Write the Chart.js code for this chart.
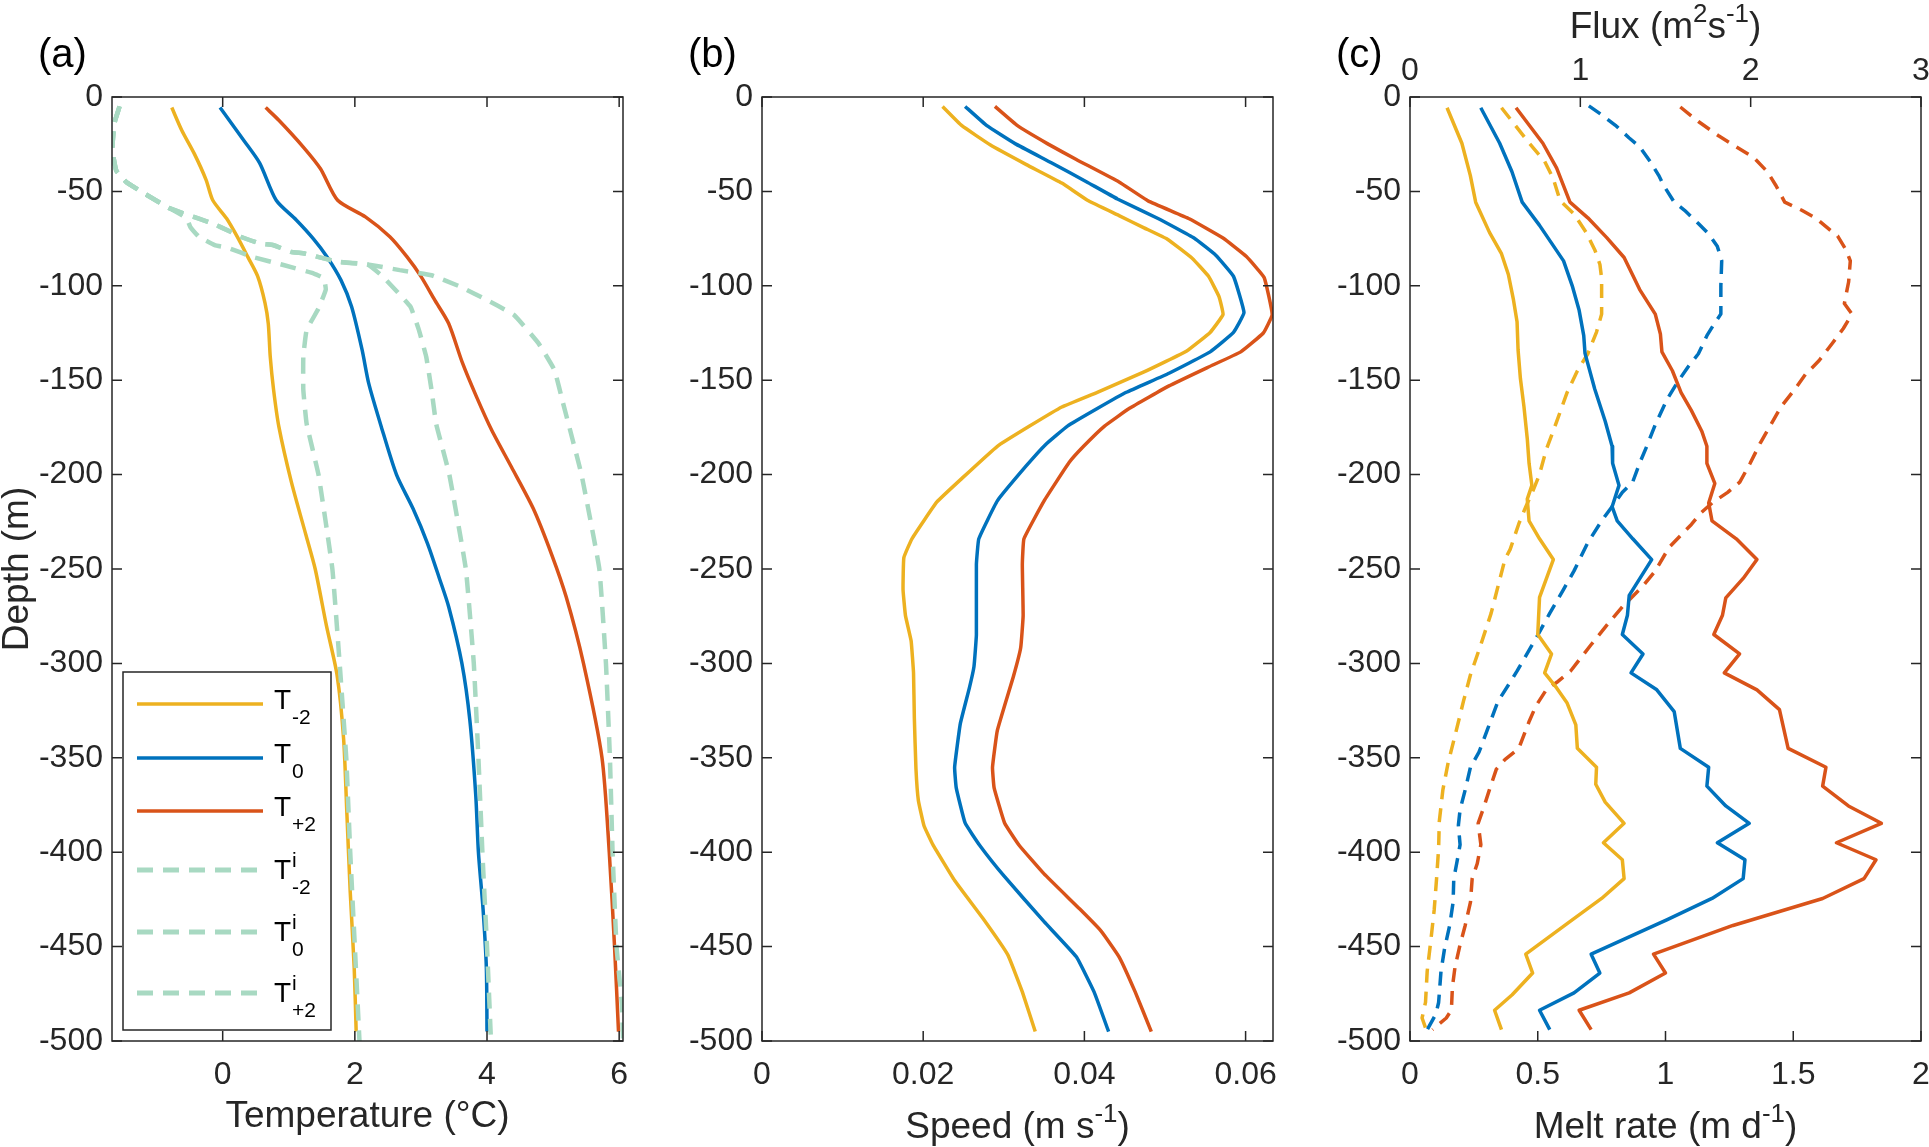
<!DOCTYPE html>
<html>
<head>
<meta charset="utf-8">
<script src="https://cdn.jsdelivr.net/npm/chart.js@4.4.1/dist/chart.umd.min.js"></script>
<style>
  html, body { margin: 0; padding: 0; background: #fff; width: 1929px; height: 1147px; overflow: hidden; }
  canvas { position: absolute; top: 0; }
</style>
</head>
<body>
<canvas id="chartA" width="660" height="1147" style="left:0px"></canvas>
<canvas id="chartB" width="660" height="1147" style="left:640px"></canvas>
<canvas id="chartC" width="639" height="1147" style="left:1290px"></canvas>
<script>
// ---- tick labels ----
const depthTicks = [-500, -450, -400, -350, -300, -250, -200, -150, -100, -50, 0];
const tempTicks = [0, 2, 4, 6];
const speedTicks = [0, 0.02, 0.04, 0.06];
const meltTicks = [0, 0.5, 1, 1.5, 2];
const fluxTicks = [0, 1, 2, 3];

// ---- (a) temperature profiles ----
const tm2Depth = [-5.6, -17.6, -30, -44, -54.7, -64.4, -74, -84.7, -95, -109, -120, -137.6, -155, -174.6, -204, -232, -250, -280, -306, -340, -380, -421, -461, -495];
const tm2Temp  = [-0.77, -0.62, -0.43, -0.25, -0.15, 0.06, 0.22, 0.38, 0.53, 0.64, 0.69, 0.72, 0.77, 0.85, 1.04, 1.26, 1.4, 1.57, 1.73, 1.83, 1.88, 1.93, 1.99, 2.02];
const t0Depth = [-5.6, -23, -35, -54.7, -65, -75, -84.7, -97, -111, -134, -151.7, -174.6, -200, -218, -236.5, -255, -270, -300, -330, -370, -400, -430, -461, -495];
const t0Temp  = [-0.04, 0.32, 0.56, 0.81, 1.11, 1.37, 1.58, 1.79, 1.95, 2.11, 2.21, 2.4, 2.63, 2.88, 3.1, 3.28, 3.42, 3.62, 3.74, 3.83, 3.87, 3.94, 3.99, 4.0];
const tp2Depth = [-5.6, -12.3, -26.5, -38, -54.7, -63.5, -74, -84.7, -95, -107.6, -120, -141, -158.7, -176.4, -196, -218, -242.5, -265, -300, -350, -400, -450, -495];
const tp2Temp  = [0.65, 0.85, 1.22, 1.48, 1.74, 2.16, 2.53, 2.79, 3.0, 3.21, 3.42, 3.63, 3.84, 4.07, 4.37, 4.7, 4.98, 5.2, 5.46, 5.74, 5.85, 5.93, 5.99];

const tim2Depth = [-5, -14, -28, -39, -45, -51, -59, -64, -68.8, -74, -78.5, -80, -84.7, -89, -93.5, -96, -102, -112, -123.5, -137.6, -155, -173, -200, -250, -300, -350, -400, -450, -500];
const tim2Temp  = [-1.56, -1.64, -1.67, -1.61, -1.46, -1.19, -0.8, -0.55, -0.49, -0.36, -0.12, 0.09, 0.45, 0.92, 1.38, 1.53, 1.56, 1.45, 1.27, 1.22, 1.22, 1.27, 1.45, 1.66, 1.77, 1.87, 1.93, 2.0, 2.07];
const ti0Depth = [-5, -14, -28, -39, -45, -51, -59, -64.4, -67, -71.4, -74, -77.6, -78.5, -82, -82.9, -85.5, -87.3, -88.7, -95, -111, -123.5, -137.6, -155, -173, -200, -250, -300, -350, -400, -450, -500];
const ti0Temp  = [-1.56, -1.64, -1.67, -1.61, -1.46, -1.19, -0.8, -0.36, -0.15, 0.12, 0.27, 0.56, 0.77, 1.03, 1.24, 1.53, 1.74, 2.19, 2.42, 2.84, 2.97, 3.08, 3.16, 3.23, 3.43, 3.68, 3.8, 3.87, 3.93, 4.0, 4.06];
const tip2Depth = [-5, -14, -28, -39, -45, -51, -59, -64.4, -67, -71.4, -74, -77.6, -78.5, -82, -82.9, -85.5, -87.3, -88.7, -91.7, -94.4, -100.5, -108.5, -115.5, -130.5, -144.6, -162, -200, -250, -300, -350, -400, -450, -480, -500];
const tip2Temp  = [-1.56, -1.64, -1.67, -1.61, -1.46, -1.19, -0.8, -0.36, -0.15, 0.12, 0.27, 0.56, 0.77, 1.03, 1.24, 1.53, 1.74, 2.19, 2.68, 3.16, 3.6, 4.05, 4.41, 4.78, 5.02, 5.15, 5.43, 5.7, 5.8, 5.86, 5.9, 5.96, 6.04, 6.06];

// ---- (b) speed profiles ----
const sm2Depth = [-5, -15.2, -25.3, -35.8, -45.6, -55, -62.8, -69.3, -75.3, -85.5, -95, -105.7, -115.2, -124.7, -134.5, -145.6, -156.4, -164.2, -174.3, -185, -202, -214.5, -234, -244, -261, -274.7, -288, -305, -328.7, -355.7, -372.6, -386, -396, -415, -435, -454.4, -474, -495];
const sm2Speed = [0.0224, 0.0248, 0.0283, 0.0328, 0.0372, 0.0405, 0.0443, 0.0474, 0.0503, 0.0534, 0.0554, 0.0567, 0.0572, 0.0556, 0.0527, 0.0474, 0.0416, 0.0372, 0.0332, 0.0292, 0.0248, 0.0217, 0.0186, 0.0176, 0.0175, 0.0178, 0.0185, 0.0188, 0.0189, 0.0191, 0.0194, 0.0201, 0.0212, 0.0239, 0.0274, 0.0305, 0.0323, 0.0339];
const s0Depth = [-5, -15.2, -24.7, -34.8, -45, -54, -64.5, -74.7, -83.8, -95, -114.2, -124.7, -135, -146.3, -156.4, -165, -174.3, -184, -195.3, -213.9, -234, -247.6, -284.8, -301.7, -313.5, -332, -355, -365.9, -384.5, -396.3, -413, -436.8, -455.4, -474, -495];
const s0Speed = [0.0252, 0.0279, 0.0314, 0.0359, 0.0403, 0.0441, 0.0492, 0.0536, 0.0563, 0.0585, 0.0598, 0.0585, 0.0556, 0.0505, 0.0452, 0.0416, 0.0379, 0.0352, 0.0328, 0.0292, 0.0269, 0.0266, 0.0266, 0.0263, 0.0257, 0.0246, 0.0239, 0.0241, 0.0252, 0.027, 0.0301, 0.035, 0.039, 0.0412, 0.043];
const sp2Depth = [-5, -15.2, -24.7, -33.1, -45, -55, -64.5, -74.7, -84.5, -95.6, -115.2, -125, -135, -143, -153, -164.9, -174.3, -185, -193.6, -213.9, -234, -247.6, -274.7, -291.6, -306.8, -335.5, -355, -365.9, -384.5, -396.3, -411.5, -430, -441.9, -455.4, -474, -495];
const sp2Speed = [0.0289, 0.0317, 0.0354, 0.039, 0.0443, 0.0479, 0.053, 0.0572, 0.0601, 0.0623, 0.0633, 0.0622, 0.0594, 0.0554, 0.0505, 0.0456, 0.0425, 0.0399, 0.0381, 0.035, 0.0325, 0.0323, 0.0324, 0.0321, 0.0312, 0.0292, 0.0286, 0.0288, 0.0301, 0.0319, 0.035, 0.0394, 0.0421, 0.0443, 0.0463, 0.0483];

// ---- (c) melt rate (solid, bottom axis) ----
const mm2Depth = [-5.7, -24.5, -41.5, -55.7, -71.7, -83, -94, -107.5, -119, -134, -149, -164, -181, -194, -205.7, -213, -224.5, -234, -245, -265, -284.7, -295, -305, -313, -321, -332.6, -345, -355, -364, -373.5, -384.7, -395, -404, -414, -424.5, -437.8, -454, -464, -475.5, -483.7, -494];
const mm2Melt  = [0.145, 0.203, 0.236, 0.257, 0.311, 0.358, 0.385, 0.405, 0.419, 0.423, 0.432, 0.446, 0.459, 0.466, 0.477, 0.459, 0.466, 0.507, 0.561, 0.507, 0.5, 0.554, 0.527, 0.574, 0.615, 0.649, 0.655, 0.73, 0.727, 0.764, 0.838, 0.757, 0.831, 0.838, 0.75, 0.615, 0.453, 0.48, 0.4, 0.331, 0.358];
const m0Depth = [-5.7, -24.5, -39.6, -55.7, -68, -77.4, -86.8, -100, -113, -126.4, -135.8, -154.7, -171.7, -185, -194, -205.7, -217, -224.5, -234, -245, -264, -274.5, -284.7, -295, -305, -314, -325.5, -345, -355, -365, -375.5, -384.7, -395, -404, -414, -424.5, -435.7, -454, -464, -474.5, -483.7, -494];
const m0Melt  = [0.277, 0.351, 0.399, 0.439, 0.507, 0.554, 0.601, 0.635, 0.662, 0.68, 0.685, 0.723, 0.764, 0.791, 0.793, 0.818, 0.791, 0.811, 0.872, 0.946, 0.858, 0.851, 0.831, 0.912, 0.865, 0.966, 1.034, 1.058, 1.169, 1.162, 1.236, 1.328, 1.203, 1.311, 1.304, 1.182, 1.007, 0.709, 0.743, 0.642, 0.507, 0.547];
const mp2Depth = [-5.7, -24.5, -37.7, -55.7, -64, -74.5, -85, -102, -115, -125.5, -135, -145, -156.6, -166, -177, -185, -194, -204.7, -215, -224.5, -234, -245, -255, -265.3, -274.5, -284.7, -295, -305, -314, -324.5, -345, -355, -365, -375.5, -384.7, -395, -404, -414, -424.5, -438.8, -454, -464, -474.5, -483.7, -494];
const mp2Melt  = [0.415, 0.52, 0.574, 0.626, 0.696, 0.77, 0.838, 0.899, 0.96, 0.98, 0.986, 1.027, 1.061, 1.101, 1.142, 1.162, 1.162, 1.193, 1.169, 1.182, 1.277, 1.358, 1.304, 1.236, 1.223, 1.189, 1.29, 1.23, 1.358, 1.446, 1.48, 1.628, 1.615, 1.716, 1.845, 1.669, 1.824, 1.777, 1.615, 1.264, 0.953, 1.0, 0.858, 0.662, 0.709];

// ---- (c) flux (dashed, top axis) ----
const fm2Depth = [-5.7, -15, -24.5, -34, -43, -55, -62, -71.7, -81, -88.7, -96, -115, -124.5, -136, -145, -156.6, -171.7, -186.8, -200, -209, -217, -226, -239.6, -245, -273.5, -290, -306, -320, -334.7, -353, -367, -383.7, -398, -414, -430.6, -447, -463, -479.6, -487.8, -493];
const fm2Flux  = [0.537, 0.618, 0.7, 0.79, 0.84, 0.882, 0.963, 1.034, 1.085, 1.115, 1.125, 1.125, 1.095, 1.044, 0.983, 0.922, 0.862, 0.8, 0.76, 0.72, 0.68, 0.639, 0.588, 0.557, 0.476, 0.416, 0.355, 0.314, 0.274, 0.223, 0.193, 0.172, 0.168, 0.156, 0.142, 0.122, 0.101, 0.091, 0.071, 0.091];
const f0Depth = [-4.7, -9.4, -15, -21.7, -26.4, -34, -41.5, -47, -55.7, -60, -67, -72.6, -79, -86.8, -100, -115, -119, -126.4, -136, -143, -151, -160, -173.6, -185, -194, -204, -209.4, -217, -224.5, -236, -251, -261, -273.5, -286.7, -296, -304, -310, -320, -334.7, -347, -355, -367, -377.5, -385.7, -396, -406, -414, -426.5, -438.8, -451, -463, -479.6, -485.7, -494];
const f0Flux  = [1.05, 1.125, 1.206, 1.287, 1.348, 1.409, 1.46, 1.49, 1.551, 1.612, 1.693, 1.754, 1.804, 1.83, 1.825, 1.825, 1.794, 1.743, 1.693, 1.632, 1.571, 1.51, 1.44, 1.39, 1.348, 1.307, 1.247, 1.186, 1.125, 1.044, 0.963, 0.9, 0.82, 0.74, 0.68, 0.629, 0.588, 0.517, 0.456, 0.405, 0.355, 0.324, 0.294, 0.284, 0.294, 0.274, 0.257, 0.253, 0.233, 0.203, 0.182, 0.168, 0.152, 0.101];
const fp2Depth = [-5.3, -13, -20.7, -26.4, -32, -39.6, -47, -55.7, -60, -64, -70, -73.6, -81, -86.8, -98, -109.4, -115, -122.6, -130, -139.6, -147, -154.7, -164, -173.6, -183, -194, -204, -209.4, -215, -220.7, -226.4, -232, -238.7, -251, -259, -270, -278.6, -290, -304, -310, -314, -322.4, -330.6, -345, -351, -356, -367, -375.5, -384.7, -396, -406, -414, -426.5, -438.8, -449, -461, -471.4, -483.7, -487.8, -494];
const fp2Flux  = [1.587, 1.693, 1.814, 1.916, 2.017, 2.098, 2.149, 2.2, 2.3, 2.38, 2.46, 2.51, 2.56, 2.585, 2.575, 2.55, 2.595, 2.544, 2.483, 2.402, 2.321, 2.26, 2.179, 2.118, 2.058, 1.997, 1.936, 1.865, 1.774, 1.703, 1.652, 1.591, 1.52, 1.44, 1.368, 1.247, 1.166, 1.064, 0.943, 0.862, 0.8, 0.74, 0.7, 0.639, 0.557, 0.507, 0.466, 0.436, 0.4, 0.416, 0.395, 0.365, 0.355, 0.324, 0.294, 0.264, 0.249, 0.243, 0.213, 0.132];

const INK = '#262626';
const FONT = '"Liberation Sans", Arial, Helvetica, sans-serif';
const YEL = '#EDB120', BLU = '#0072BD', RED = '#D95319', MINT = '#A8D9C2';
const TICK_SIZE = 32, TITLE_SIZE = 37, LETTER_SIZE = 40;

function series(xs, ys, color, opts) {
    const o = opts || {};
    const n = Math.min(xs.length, ys.length);
    const data = [];
    for (let i = 0; i < n; i++) data.push({ x: xs[i], y: ys[i] });
    return {
        data: data,
        showLine: true,
        borderColor: color,
        backgroundColor: color,
        borderWidth: o.width || 3.5,
        borderDash: o.dash || [],
        borderJoinStyle: 'round',
        pointRadius: 0,
        tension: o.tension || 0,
        fill: false,
        xAxisID: o.axis || 'x',
        order: o.order || 1
    };
}

function yScale(width) {
    return {
        type: 'linear', min: -500, max: 0,
        afterBuildTicks: s => { s.ticks = depthTicks.map(v => ({ value: v })); },
        afterFit: s => { s.width = width; s.paddingTop = 0; s.paddingBottom = 0; },
        grid: { display: false, drawTicks: false },
        border: { display: false },
        ticks: { color: INK, font: { family: FONT, size: TICK_SIZE }, padding: 9, autoSkip: false, callback: v => String(v) }
    };
}

function xScale(min, max, tickArr, position, height, pad) {
    return {
        type: 'linear', min: min, max: max, position: position,
        afterBuildTicks: s => { s.ticks = tickArr.map(v => ({ value: v })); },
        afterFit: s => { s.height = height; s.paddingLeft = 0; s.paddingRight = 0; },
        grid: { display: false, drawTicks: false },
        border: { display: false },
        ticks: { color: INK, font: { family: FONT, size: TICK_SIZE }, padding: pad, maxRotation: 0, autoSkip: false, callback: v => String(v) }
    };
}

// text with super/subscripts: runs = [[text, ''|'sup'|'sub'], ...]
function drawRich(ctx, runs, x, y, size, align) {
    const small = size * 0.7;
    let w = 0;
    runs.forEach(([t, k]) => { ctx.font = (k ? small : size) + 'px ' + FONT; w += ctx.measureText(t).width; });
    let cx = align === 'center' ? x - w / 2 : x;
    runs.forEach(([t, k]) => {
        ctx.font = (k ? small : size) + 'px ' + FONT;
        const dy = k === 'sup' ? -size * 0.42 : (k === 'sub' ? size * 0.28 : 0);
        ctx.fillText(t, cx, y + dy);
        cx += ctx.measureText(t).width;
    });
}

const legendRows = [
    { sub: '-2', sup: '' }, { sub: '0', sup: '' }, { sub: '+2', sup: '' },
    { sub: '-2', sup: 'i' }, { sub: '0', sup: 'i' }, { sub: '+2', sup: 'i' }
];

function makeFrame(extra) {
    return {
        id: 'frame',
        afterDraw(chart) {
            const ctx = chart.ctx, a = chart.chartArea;
            const len = 10;
            ctx.save();
            ctx.strokeStyle = INK;
            ctx.lineWidth = 1.5;
            ctx.beginPath();
            const ys = chart.scales.y, xs = chart.scales.x, x2 = chart.scales.x2;
            ys.ticks.forEach(t => {
                const p = ys.getPixelForValue(t.value);
                ctx.moveTo(a.left, p); ctx.lineTo(a.left + len, p);
                ctx.moveTo(a.right, p); ctx.lineTo(a.right - len, p);
            });
            xs.ticks.forEach(t => {
                const p = xs.getPixelForValue(t.value);
                ctx.moveTo(p, a.bottom); ctx.lineTo(p, a.bottom - len);
                if (!x2) { ctx.moveTo(p, a.top); ctx.lineTo(p, a.top + len); }
            });
            if (x2) {
                x2.ticks.forEach(t => {
                    const p = x2.getPixelForValue(t.value);
                    ctx.moveTo(p, a.top); ctx.lineTo(p, a.top + len);
                });
            }
            ctx.stroke();
            ctx.strokeRect(a.left, a.top, a.right - a.left, a.bottom - a.top);

            ctx.fillStyle = '#000';
            ctx.textBaseline = 'alphabetic';
            ctx.textAlign = 'left';
            // panel letter
            ctx.font = LETTER_SIZE + 'px ' + FONT;
            ctx.fillText(extra.letter, a.left - 74, a.top - 30);
            // x title
            ctx.fillStyle = INK;
            drawRich(ctx, extra.xTitle, (a.left + a.right) / 2, a.bottom + extra.xTitleGap, TITLE_SIZE, 'center');
            if (extra.topTitle) {
                drawRich(ctx, extra.topTitle, (a.left + a.right) / 2, a.top - 59, TITLE_SIZE, 'center');
            }
            if (extra.yTitle) {
                ctx.save();
                ctx.translate(a.left - 84, (a.top + a.bottom) / 2);
                ctx.rotate(-Math.PI / 2);
                drawRich(ctx, [[extra.yTitle, '']], 0, 0, TITLE_SIZE, 'center');
                ctx.restore();
            }
            if (extra.legend) {
                const bx = a.left + 11, by = 672, bw = 208, bh = 358;
                ctx.fillStyle = '#fff';
                ctx.fillRect(bx, by, bw, bh);
                ctx.strokeStyle = INK;
                ctx.lineWidth = 1.5;
                ctx.strokeRect(bx, by, bw, bh);
                const rowY = [704, 758, 811, 870, 932, 993];
                legendRows.forEach((r, i) => {
                    const ds = chart.data.datasets[i];
                    const yc = rowY[i];
                    ctx.save();
                    ctx.strokeStyle = ds.borderColor;
                    ctx.lineWidth = ds.borderWidth + (r.sup ? 0.5 : 0);
                    ctx.setLineDash(ds.borderDash);
                    ctx.beginPath();
                    ctx.moveTo(a.left + 25, yc);
                    ctx.lineTo(a.left + 151, yc);
                    ctx.stroke();
                    ctx.restore();
                    ctx.fillStyle = '#000';
                    const base = r.sup ? yc + 9 : yc + 5;
                    ctx.font = '28px ' + FONT;
                    ctx.fillText('T', a.left + 162, base);
                    const tx = a.left + 162 + ctx.measureText('T').width + 1;
                    ctx.font = '21px ' + FONT;
                    if (r.sup) ctx.fillText(r.sup, tx, base - 12);
                    ctx.fillText(r.sub, tx, base + 15);
                });
            }
            ctx.restore();
        }
    };
}

function baseOptions(pad, scales) {
    return {
        responsive: false,
        animation: false,
        events: [],
        layout: { padding: pad },
        plugins: { legend: { display: false }, tooltip: { enabled: false } },
        scales: scales
    };
}

// (a) temperature
new Chart(document.getElementById('chartA'), {
    type: 'scatter',
    data: {
        datasets: [
            series(tm2Temp, tm2Depth, YEL, { tension: 0.25, order: 2 }),
            series(t0Temp, t0Depth, BLU, { tension: 0.25, order: 2 }),
            series(tp2Temp, tp2Depth, RED, { tension: 0.25, order: 2 }),
            series(tim2Temp, tim2Depth, MINT, { width: 4.5, dash: [16, 10], tension: 0.1, order: 1 }),
            series(ti0Temp, ti0Depth, MINT, { width: 4.5, dash: [16, 10], tension: 0.1, order: 1 }),
            series(tip2Temp, tip2Depth, MINT, { width: 4.5, dash: [16, 10], tension: 0.1, order: 1 })
        ]
    },
    options: baseOptions({ left: 0, top: 97, right: 37, bottom: 0 }, {
        x: xScale(-1.675, 6.058, tempTicks, 'bottom', 106, 15),
        y: yScale(112)
    }),
    plugins: [makeFrame({
        letter: '(a)',
        xTitle: [['Temperature (\u00B0C)', '']],
        xTitleGap: 86,
        yTitle: 'Depth (m)',
        legend: true
    })]
});

// (b) speed
new Chart(document.getElementById('chartB'), {
    type: 'scatter',
    data: {
        datasets: [
            series(sm2Speed, sm2Depth, YEL, { tension: 0.1 }),
            series(s0Speed, s0Depth, BLU, { tension: 0.1 }),
            series(sp2Speed, sp2Depth, RED, { tension: 0.1 })
        ]
    },
    options: baseOptions({ left: 0, top: 97, right: 27, bottom: 0 }, {
        x: xScale(0, 0.0634, speedTicks, 'bottom', 106, 15),
        y: yScale(122)
    }),
    plugins: [makeFrame({
        letter: '(b)',
        xTitle: [['Speed (m s', ''], ['-1', 'sup'], [')', '']],
        xTitleGap: 97
    })]
});

// (c) melt rate and flux
new Chart(document.getElementById('chartC'), {
    type: 'scatter',
    data: {
        datasets: [
            series(mm2Melt, mm2Depth, YEL),
            series(m0Melt, m0Depth, BLU),
            series(mp2Melt, mp2Depth, RED),
            series(fm2Flux, fm2Depth, YEL, { dash: [14, 9], axis: 'x2' }),
            series(f0Flux, f0Depth, BLU, { dash: [14, 9], axis: 'x2' }),
            series(fp2Flux, fp2Depth, RED, { dash: [14, 9], axis: 'x2' })
        ]
    },
    options: baseOptions({ left: 0, top: 0, right: 8, bottom: 0 }, {
        x: xScale(0, 2, meltTicks, 'bottom', 106, 15),
        x2: xScale(0, 3, fluxTicks, 'top', 97, 7),
        y: yScale(120)
    }),
    plugins: [makeFrame({
        letter: '(c)',
        xTitle: [['Melt rate (m d', ''], ['-1', 'sup'], [')', '']],
        xTitleGap: 97,
        topTitle: [['Flux (m', ''], ['2', 'sup'], ['s', ''], ['-1', 'sup'], [')', '']]
    })]
});
</script>
</body>
</html>
